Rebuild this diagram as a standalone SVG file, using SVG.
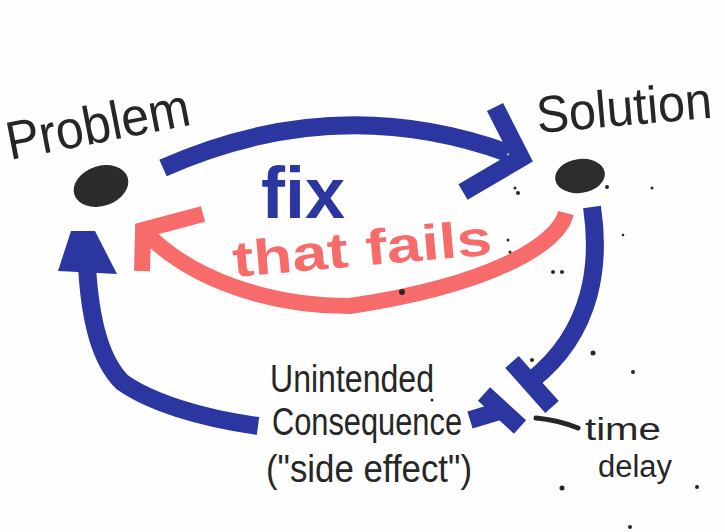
<svg xmlns="http://www.w3.org/2000/svg" width="725" height="532" viewBox="0 0 725 532">
<style>
.ink{font-family:"Liberation Sans",Arial,sans-serif;fill:#262626}
.blue{fill:none;stroke:#2b36a0;stroke-width:18;stroke-linecap:butt}
.red{fill:none;stroke:#f86b6b;stroke-width:16;stroke-linecap:butt}
.dot{fill:#262626}
</style>
<rect width="725" height="532" fill="#fefefe"/>
<g id="problem">
<ellipse cx="101" cy="186" rx="28" ry="20" transform="rotate(-18 101 186)" fill="#2b2b2b"/>
<text class="ink" x="10" y="160" font-size="54" textLength="186" lengthAdjust="spacingAndGlyphs" transform="rotate(-11 10 160)">Problem</text>
</g>
<g id="solution">
<ellipse cx="580" cy="176" rx="25" ry="17" transform="rotate(-8 580 176)" fill="#2e2c2b"/>
<text class="ink" x="538" y="133" font-size="52" textLength="176" lengthAdjust="spacingAndGlyphs" transform="rotate(-5 538 133)">Solution</text>
</g>
<g id="connectors">
<path class="blue" d="M163,168 Q336,91 508,153"/>
<path class="blue" d="M495,107 L521,158 L463,192" stroke-linejoin="miter"/>
<path class="blue" d="M592,207 C600,260 595,330 532,380"/>
<path class="blue" d="M512,362 L552,407" stroke-width="16"/>
<path class="blue" d="M484,394 L520,427" stroke-width="14"/>
<path class="blue" d="M470,420 L503,410" stroke-width="14"/>
<path class="blue" d="M258,426 C200,418 150,402 122,382 C100,360 90,320 87,266"/>
<polygon points="71,231 95,231 117,274 58,271" fill="#2b36a0"/>
<path class="red" d="M566,213 C558,245 490,285 350,306 C270,306 190,280 143,230"/>
<path class="red" d="M203,214 L143,230 L142,271" stroke-linejoin="miter"/>
<path d="M536,418 Q558,420 578,428" fill="none" stroke="#262626" stroke-width="5" stroke-linecap="round"/>
</g>
<g id="labels">
<text x="261" y="218" font-family="Liberation Sans,Arial,sans-serif" font-weight="bold" font-size="72" fill="#2b36a0" textLength="84" lengthAdjust="spacingAndGlyphs">fix</text>
<text x="234" y="277" font-family="Liberation Sans,Arial,sans-serif" font-weight="bold" font-size="50" fill="#f86b6b" textLength="260" lengthAdjust="spacingAndGlyphs" transform="rotate(-5 234 277)">that fails</text>
<text class="ink" x="270" y="392" font-size="38" textLength="164" lengthAdjust="spacingAndGlyphs">Unintended</text>
<text class="ink" x="272" y="435" font-size="38" textLength="190" lengthAdjust="spacingAndGlyphs">Consequence</text>
<text class="ink" x="266" y="482" font-size="38" textLength="206" lengthAdjust="spacingAndGlyphs">("side effect")</text>
<text class="ink" x="585" y="440" font-size="31" textLength="76" lengthAdjust="spacingAndGlyphs">time</text>
<text class="ink" x="598" y="477" font-size="31" textLength="74" lengthAdjust="spacingAndGlyphs">delay</text>
</g>
<g id="specks">
<circle class="dot" cx="402" cy="292" r="3"/>
<circle class="dot" cx="518" cy="193" r="2"/>
<circle class="dot" cx="515" cy="188" r="1.5"/>
<circle class="dot" cx="607" cy="187" r="2"/>
<circle class="dot" cx="652" cy="188" r="1.5"/>
<circle class="dot" cx="623" cy="235" r="1.3"/>
<circle class="dot" cx="508" cy="240" r="1.5"/>
<circle class="dot" cx="510" cy="252" r="1.5"/>
<circle class="dot" cx="553" cy="272" r="2"/>
<circle class="dot" cx="562" cy="272" r="2"/>
<circle class="dot" cx="532" cy="360" r="2"/>
<circle class="dot" cx="593" cy="353" r="2.5"/>
<circle class="dot" cx="633" cy="372" r="2"/>
<circle class="dot" cx="562" cy="488" r="2.5"/>
<circle class="dot" cx="697" cy="487" r="2"/>
<circle class="dot" cx="630" cy="527" r="2"/>
<circle class="dot" cx="432" cy="400" r="1.5"/>
</g>
</svg>
